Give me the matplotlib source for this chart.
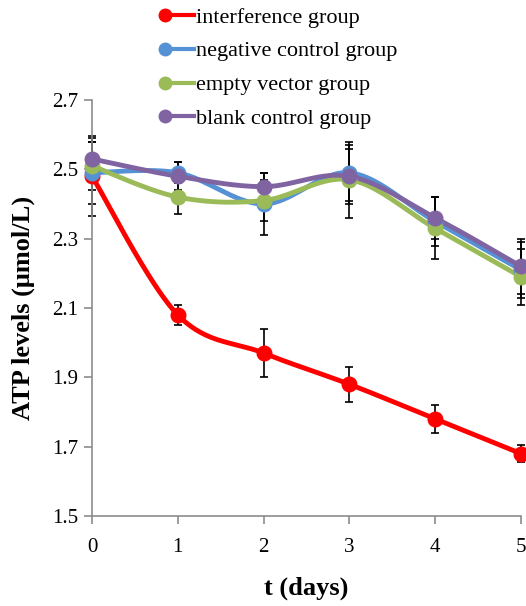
import numpy as np
import matplotlib
matplotlib.use("Agg")
import matplotlib.pyplot as plt
from matplotlib.lines import Line2D
from matplotlib.legend_handler import HandlerBase

plt.rcParams['font.family'] = ['Liberation Serif', 'DejaVu Serif']

days = [0, 1, 2, 3, 4, 5]
labels = ["interference group", "negative control group", "empty vector group", "blank control group"]
colors = ["#FF0000", "#5592D5", "#9BBB59", "#8064A2"]

interference = [2.48, 2.08, 1.97, 1.88, 1.78, 1.68]
interference_err = [0.115, 0.03, 0.07, 0.05, 0.04, 0.025]
negative = [2.49, 2.49, 2.40, 2.49, 2.35, 2.21]
negative_err = [0.09, 0.03, 0.09, 0.08, 0.07, 0.08]
empty = [2.51, 2.42, 2.41, 2.47, 2.33, 2.19]
empty_err = [0.07, 0.05, 0.06, 0.11, 0.09, 0.08]
blank = [2.53, 2.48, 2.45, 2.48, 2.36, 2.22]
blank_err = [0.06, 0.04, 0.04, 0.08, 0.06, 0.08]

series = [interference, negative, empty, blank]
errors = [interference_err, negative_err, empty_err, blank_err]


def smooth(x, y, n=40, tension=0.5):
    x = np.asarray(x, float); y = np.asarray(y, float)
    px = np.concatenate([[x[0]], x, [x[-1]]])
    py = np.concatenate([[y[0]], y, [y[-1]]])
    xs, ys = [], []
    for i in range(1, len(px) - 2):
        p0 = np.array([px[i - 1], py[i - 1]]); p1 = np.array([px[i], py[i]])
        p2 = np.array([px[i + 1], py[i + 1]]); p3 = np.array([px[i + 2], py[i + 2]])
        c1 = p1 + (p2 - p0) * tension / 3
        c2 = p2 - (p3 - p1) * tension / 3
        t = np.linspace(0, 1, n)[:, None]
        b = (1 - t) ** 3 * p1 + 3 * (1 - t) ** 2 * t * c1 + 3 * (1 - t) * t ** 2 * c2 + t ** 3 * p2
        xs.extend(b[:, 0]); ys.extend(b[:, 1])
    return np.array(xs), np.array(ys)


fig = plt.figure(figsize=(5.26, 6.06), dpi=100)
ax = fig.add_axes([92 / 526, 1 - 516 / 606, (521 - 92) / 526, (516 - 100) / 606])

for vals, err, col in zip(series, errors, colors):
    ax.errorbar(days, vals, yerr=err, fmt='none', ecolor='black', elinewidth=1.2,
                capsize=3, capthick=1.2, zorder=2, clip_on=False)

for vals, col in zip(series, colors):
    sx, sy = smooth(days, vals)
    ax.plot(sx, sy, color=col, lw=3.5, zorder=3, clip_on=False, solid_capstyle='round')
    ax.plot(days, vals, 'o', color=col, ms=10.5, zorder=4, clip_on=False)

ax.set_xlim(0, 5)
ax.set_ylim(1.5, 2.7)
ax.set_xticks(days)
ax.set_yticks([1.5, 1.7, 1.9, 2.1, 2.3, 2.5, 2.7])
ax.set_yticklabels(["1.5", "1.7", "1.9", "2.1", "2.3", "2.5", "2.7"])
for s in ['top', 'right']:
    ax.spines[s].set_visible(False)
for s in ['left', 'bottom']:
    ax.spines[s].set_color('#8C8C8C')
    ax.spines[s].set_linewidth(1.2)
ax.tick_params(axis='both', colors='#8C8C8C', labelcolor='black', labelsize=15,
               direction='out', length=6, width=1.2)
ax.tick_params(axis='x', pad=10)
ax.tick_params(axis='y', pad=4)
ax.set_xlabel("t (days)", fontsize=19, fontweight='bold', labelpad=14)
ax.set_ylabel("ATP levels (μmol/L)", fontsize=19, fontweight='bold', labelpad=12)


class MarkerLeftHandler(HandlerBase):
    def create_artists(self, legend, orig_handle, xdescent, ydescent, width, height, fontsize, trans):
        y = height / 2 - ydescent
        col = orig_handle.get_color()
        line = Line2D([-xdescent + 5, width - xdescent], [y, y], color=col, lw=3)
        mk = Line2D([-xdescent + 5], [y], marker='o', ms=9, color=col, linestyle='none')
        line.set_transform(trans); mk.set_transform(trans)
        return [line, mk]


handles = [Line2D([], [], color=c) for c in colors]
fig.legend(handles, labels, loc='upper left', bbox_to_anchor=(158 / 526, 1 - 7 / 606),
           frameon=False, fontsize=16, handlelength=1.6, handletextpad=0.1,
           labelspacing=0.6, borderaxespad=0, borderpad=0,
           handler_map={Line2D: MarkerLeftHandler()})

fig.savefig("out.png", dpi=100)
